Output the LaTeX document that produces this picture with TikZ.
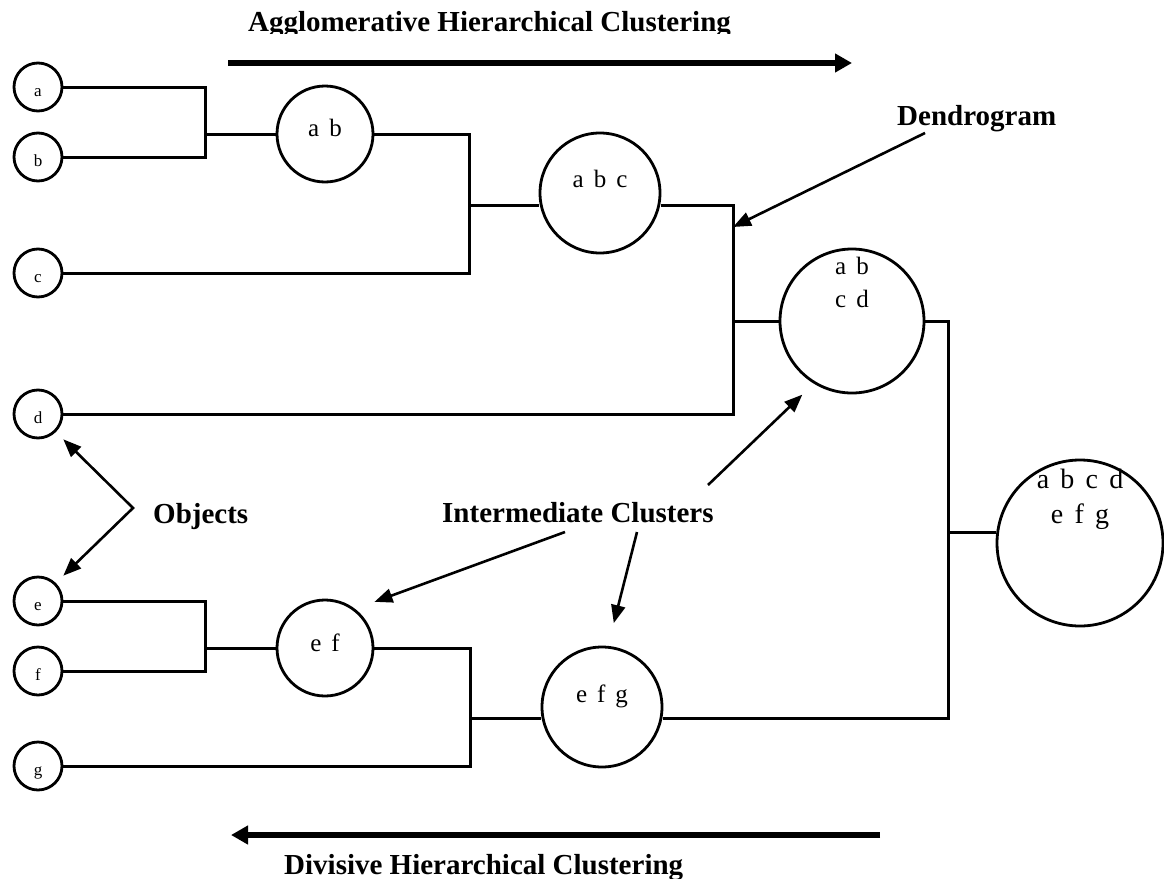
\documentclass[tikz,border=0pt]{standalone}
\usepackage{fontspec}
\setmainfont{Liberation Serif}
\newfontfamily\clfont[WordSpace=1.6]{Liberation Serif}
\usetikzlibrary{arrows.meta,calc}

\begin{document}
\begin{tikzpicture}[x=1pt,y=-1pt,
  link/.style={line width=3pt},
  leaf/.style={circle,draw,line width=2.8pt,minimum size=48pt,inner sep=0pt},
  clus/.style={circle,draw,line width=2.8pt,inner sep=0pt},
  leaflab/.style={anchor=base,inner sep=0pt,font=\fontsize{17}{17}\selectfont},
  clab/.style={anchor=base,inner sep=0pt,align=center,font=\clfont\fontsize{25}{33}\selectfont},
  biglab/.style={anchor=base,inner sep=0pt,align=center,font=\clfont\fontsize{28}{35}\selectfont},
  title/.style={anchor=base west,inner sep=0pt,font=\bfseries\fontsize{29}{29}\selectfont},
  annot/.style={line width=2.6pt},
  tip/.style={-{Triangle[length=18pt,width=14pt]}},
  bigarrow/.style={line width=6pt,-{Triangle[length=17pt,width=18pt]}}
]
\useasboundingbox (0,0) rectangle (1164,878);

% objects
\node[leaf] (a) at (38,87) {};
\node[leaf] (b) at (38,157) {};
\node[leaf] (c) at (38,273) {};
\node[leaf] (d) at (38,414) {};
\node[leaf] (e) at (38,601) {};
\node[leaf] (f) at (38,671) {};
\node[leaf] (g) at (38,766) {};
\foreach \n in {a,b,c,d,e,f,g}
  \node[leaflab] (\n-t) at ([yshift=-9pt]\n.center) {\n};

% clusters
\node[clus,minimum size=96pt] (ab) at (325,134) {};
\node[clus,minimum size=120pt] (abc) at (600,193) {};
\node[clus,minimum size=144pt] (abcd) at (852,321) {};
\node[clus,minimum size=96pt] (ef) at (325,648) {};
\node[clus,minimum size=120pt] (efg) at (602,707) {};
\node[clus,minimum size=166pt] (all) at (1080,543) {};

\node[clab] (ab-t) at ([yshift=-2pt]ab.center) {a b};
\node[clab] (abc-t) at ([yshift=6pt]abc.center) {a b c};
\node[clab] (abcd-t) at ([yshift=14pt]abcd.center) {a b\\c d};
\node[clab] (ef-t) at ([yshift=-3pt]ef.center) {e f};
\node[clab] (efg-t) at ([yshift=5pt]efg.center) {e f g};
\node[biglab] (all-t) at ([yshift=20pt]all.center) {a b c d\\e f g};

% junction columns of the dendrogram
\coordinate (j1) at (205,0);
\coordinate (j2) at (469,205);
\coordinate (j3) at (733,0);
\coordinate (j4) at (948,532);
\coordinate (j5) at (205,0);
\coordinate (j6) at (470,718);

% links
\draw[link] (a.east) -- (a.east -| j1) -- (b.east -| j1) -- (b.east);
\draw[link] (ab.west -| j1) -- (ab.west);
\draw[link] (ab.east) -- (ab.east -| j2) -- (c.east -| j2) -- (c.east);
\draw[link] (j2) -- (j2 -| abc.west);
\draw[link] (j2 -| abc.east) -- (j2 -| j3) -- (d.east -| j3) -- (d.east);
\draw[link] (abcd.west -| j3) -- (abcd.west);
\draw[link] (abcd.east) -- (abcd.east -| j4) -- (j6 -| j4) -- (j6 -| efg.east);
\draw[link] (j4) -- (j4 -| all.west);
\draw[link] (e.east) -- (e.east -| j5) -- (f.east -| j5) -- (f.east);
\draw[link] (ef.west -| j5) -- (ef.west);
\draw[link] (ef.east) -- (ef.east -| j6) -- (g.east -| j6) -- (g.east);
\draw[link] (j6) -- (j6 -| efg.west);

% direction arrows and their labels
\coordinate (agg-s) at (228,63);
\coordinate (agg-e) at (852,63);
\coordinate (div-s) at (880,835);
\coordinate (div-e) at (231,835);
\draw[bigarrow] (agg-s) -- (agg-e);
\draw[bigarrow] (div-s) -- (div-e);
\begin{scope}
  \clip (0,0) rectangle (1164,33);
  \node[title] (agg-t) at (248,31) {Agglomerative Hierarchical Clustering};
\end{scope}
\node[title] (div-t) at (284,874) {Divisive Hierarchical Clustering};

% annotations
\node[title] (dendro) at (897,125) {Dendrogram};
\coordinate (dendro-s) at (925,133);
\coordinate (dendro-e) at (733,227);
\draw[annot,tip] (dendro-s) -- (dendro-e);

\node[title] (objects) at (153,523) {Objects};
\coordinate (obj-v) at (133,508);
\draw[annot,{Triangle[length=18pt,width=14pt]}-{Triangle[length=18pt,width=14pt]}]
  ($(d.center)!1.41!(d.-45)$) -- (obj-v) -- ($(e.center)!1.41!(e.45)$);

\node[title] (inter) at (442,522) {Intermediate Clusters};
\coordinate (int-s1) at (565,532);
\coordinate (int-s2) at (637,532);
\coordinate (int-s3) at (708,485);
\draw[annot,tip] (int-s1) -- ($(ef.center)!1.37!(ef.43)$);
\draw[annot,tip] (int-s2) -- ($(efg.center)!1.38!(efg.82)$);
\draw[annot,tip] (int-s3) -- ($(abcd.center)!1.21!(abcd.236)$);
\end{tikzpicture}
\end{document}
